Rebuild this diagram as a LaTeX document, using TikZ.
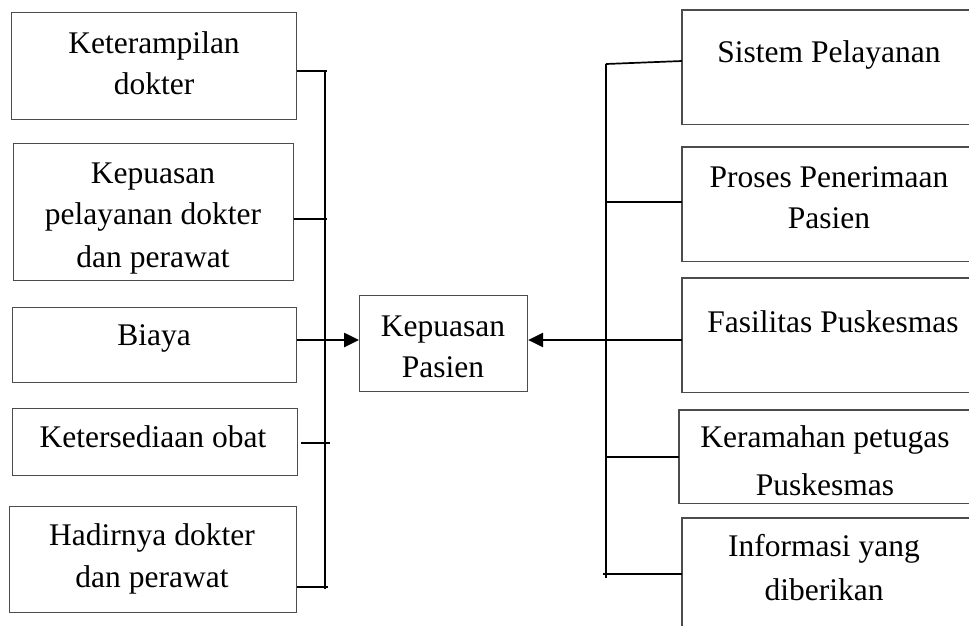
\documentclass[tikz,border=0pt]{standalone}
\usepackage{fontspec}
\setmainfont{Liberation Serif}
\usetikzlibrary{arrows.meta}
\tikzset{
  box/.style={draw=black!70, line width=1.1pt, rectangle, anchor=north west, inner sep=0pt},
  rbox/.style={draw=none, rectangle, anchor=north west, inner sep=0pt},
  rline/.style={draw=black!70, line width=1.1pt},
  txt/.style={anchor=base, inner sep=0pt, font=\fontsize{31.5}{38}\selectfont},
  conn/.style={draw=black, line width=1.7pt},
  arr/.style={draw=black, line width=2.6pt, -{Triangle[length=15pt,width=14pt]}},
}
\begin{document}
\begin{tikzpicture}[x=1pt,y=-1pt]
\useasboundingbox (0,0) rectangle (969,625);
\fill[white] (0,0) rectangle (969,625);
% left boxes
\node[box, minimum width=285pt, minimum height=107pt] (b1) at (11,12) {};
\node[txt] (t1a) at (154,53) {Keterampilan};
\node[txt] (t1b) at (154,94) {dokter};
\node[box, minimum width=280pt, minimum height=137pt] (b2) at (13,143) {};
\node[txt] (t2a) at (153,183) {Kepuasan};
\node[txt] (t2b) at (153,224) {pelayanan dokter};
\node[txt] (t2c) at (153,267) {dan perawat};
\node[box, minimum width=284pt, minimum height=75pt] (b3) at (12,307) {};
\node[txt] (t3) at (154,345) {Biaya};
\node[box, minimum width=285pt, minimum height=67pt] (b4) at (12,408) {};
\node[txt] (t4) at (153,447) {Ketersediaan obat};
\node[box, minimum width=287pt, minimum height=106pt] (b5) at (9,506) {};
\node[txt] (t5a) at (152,545) {Hadirnya dokter};
\node[txt] (t5b) at (152,587) {dan perawat};
% center
\node[box, minimum width=168pt, minimum height=96pt] (c) at (359,295) {};
\node[txt] (tca) at (443,336) {Kepuasan};
\node[txt] (tcb) at (443,377) {Pasien};
% right boxes (cut by the right edge of the picture)
\node[rbox, minimum width=290pt, minimum height=114pt] (r1) at (682,10) {};
\node[rbox, minimum width=290pt, minimum height=114pt] (r2) at (682,147) {};
\node[rbox, minimum width=290pt, minimum height=114pt] (r3) at (682,278) {};
\node[rbox, minimum width=290pt, minimum height=93pt] (r4) at (679,410) {};
\node[rbox, minimum width=290pt, minimum height=130pt] (r5) at (682,518) {};
\foreach \r in {r1,r2,r3,r4}
  \draw[rline] (\r.north east) -- (\r.north west) -- (\r.south west) -- (\r.south east);
\draw[rline] (r5.north east) -- (r5.north west) -- (r5.south west);
\node[txt] (tr1) at (829,62) {Sistem Pelayanan};
\node[txt] (tr2a) at (829,187) {Proses Penerimaan};
\node[txt] (tr2b) at (829,228) {Pasien};
\node[txt] (tr3) at (833,332) {Fasilitas Puskesmas};
\node[txt] (tr4a) at (825,447) {Keramahan petugas};
\node[txt] (tr4b) at (825,495) {Puskesmas};
\node[txt] (tr5a) at (824,556) {Informasi yang};
\node[txt] (tr5b) at (824,600) {diberikan};
% left bus
\coordinate (lt) at (327,71);
\coordinate (lbt) at (325,71);
\coordinate (lbb) at (325,589);
\coordinate (l2) at (327,219);
\coordinate (l4a) at (301,443);
\coordinate (l4b) at (330,443);
\coordinate (l5) at (328,587);
\draw[conn] (lbt) -- (lbb);
\draw[conn] (b1.east |- lt) -- (lt);
\draw[conn] (b2.east |- l2) -- (l2);
\draw[conn] (l4a) -- (l4b);
\draw[conn] (b5.east |- l5) -- (l5);
\draw[arr] (b3.east |- 0,340) -- (c.west |- 0,340);
% right bus
\coordinate (rbt) at (606,64);
\coordinate (rbb) at (606,578);
\draw[conn] (rbt) -- (rbb);
\draw[conn] (rbt) -- (r1.west |- 0,61);
\draw[conn] (606,202) coordinate (s2) -- (r2.west |- s2);
\draw[conn] (606,457) coordinate (s4) -- (r4.west |- s4);
\draw[conn] (603,574) coordinate (s5) -- (r5.west |- s5);
\draw[arr] (r3.west |- 0,340) -- (c.east |- 0,340);
\end{tikzpicture}
\end{document}
